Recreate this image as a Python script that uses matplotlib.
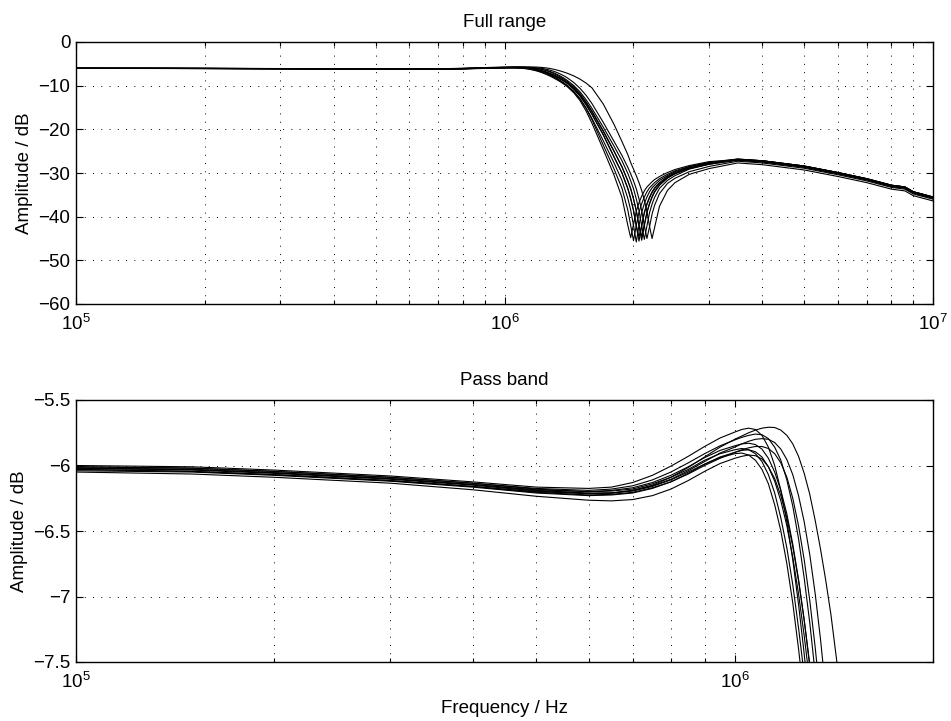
"""Monte-Carlo amplitude responses of the low-pass filter: full range and pass band."""

import matplotlib

matplotlib.use("Agg")
import matplotlib.pyplot as plt
from matplotlib.ticker import FuncFormatter, LogLocator, NullFormatter

plt.rcParams["font.family"] = ["Liberation Sans", "DejaVu Sans"]
FONT_SIZE = 13.5

# shared frequency grid (Hz)
FREQ_HZ = [
    1.0e5, 1.5e5, 2.0e5, 3.0e5, 4.0e5, 5.0e5,
    6.0e5, 6.5e5, 7.0e5, 7.5e5, 8.0e5, 8.5e5, 9.0e5, 9.5e5,
    1.000e6, 1.025e6, 1.050e6, 1.075e6, 1.100e6, 1.125e6, 1.150e6, 1.175e6, 1.200e6,
    1.225e6, 1.250e6, 1.275e6, 1.300e6, 1.325e6, 1.350e6, 1.375e6, 1.400e6,
    1.45e6, 1.50e6, 1.55e6,
    1.60e6, 1.70e6, 1.80e6, 1.88e6, 1.94e6, 1.97e6, 2.00e6, 2.03e6, 2.06e6, 2.09e6, 2.12e6,
    2.15e6, 2.18e6, 2.21e6, 2.24e6,
    2.30e6, 2.40e6, 2.50e6, 2.70e6, 3.00e6, 3.50e6, 4.00e6, 5.00e6, 6.00e6, 7.00e6, 8.00e6,
    8.60e6, 9.00e6, 1.00e7,
]

# amplitude (dB) of each simulated run on FREQ_HZ
RUN_01 = [
    -6.02, -6.03, -6.055, -6.10, -6.145, -6.19,
    -6.21, -6.21, -6.195, -6.16, -6.11, -6.05, -5.99, -5.94,
    -5.91, -5.905, -5.92, -5.96, -6.03, -6.14, -6.30, -6.50, -6.75,
    -7.05, -7.40, -7.78, -8.20, -8.65, -9.12, -9.65, -10.2,
    -11.6, -13.4, -15.8,
    -18.6, -24.6, -30.4, -35.6, -42.0, -44.8, -41.8, -38.8, -36.8, -35.3, -34.1,
    -33.2, -32.6, -32.0, -31.5,
    -30.8, -29.9, -29.2, -28.3, -27.4, -26.9, -27.2, -28.4, -29.9, -31.3, -32.8,
    -33.2, -34.3, -35.5,
]
RUN_02 = [
    -6.01, -6.02, -6.045, -6.09, -6.135, -6.18,
    -6.20, -6.195, -6.18, -6.14, -6.09, -6.03, -5.96, -5.91,
    -5.88, -5.87, -5.88, -5.91, -5.97, -6.07, -6.21, -6.40, -6.63,
    -6.91, -7.24, -7.60, -8.00, -8.44, -8.92, -9.44, -10.0,
    -11.3, -13.0, -15.2,
    -17.8, -23.6, -29.0, -33.5, -38.5, -42.0, -45.5, -42.0, -39.0, -37.0, -35.5,
    -34.3, -33.4, -32.8, -32.2,
    -31.3, -30.3, -29.5, -28.5, -27.6, -27.0, -27.4, -28.6, -30.1, -31.5, -33.0,
    -33.4, -34.5, -35.7,
]
RUN_03 = [
    -6.00, -6.01, -6.035, -6.08, -6.125, -6.165,
    -6.175, -6.165, -6.13, -6.075, -6.005, -5.93, -5.855, -5.79,
    -5.745, -5.725, -5.715, -5.725, -5.77, -5.86, -6.00, -6.19, -6.43,
    -6.72, -7.06, -7.44, -7.86, -8.32, -8.82, -9.36, -9.95,
    -11.3, -13.0, -15.1,
    -17.5, -22.6, -27.6, -31.7, -35.8, -38.5, -42.0, -45.8, -42.0, -39.0, -37.0,
    -35.5, -34.3, -33.4, -32.8,
    -31.7, -30.6, -29.7, -28.6, -27.6, -26.8, -27.2, -28.4, -29.9, -31.3, -32.8,
    -33.2, -34.3, -35.5,
]
RUN_04 = [
    -6.04, -6.05, -6.075, -6.12, -6.165, -6.21,
    -6.23, -6.225, -6.21, -6.175, -6.125, -6.06, -5.99, -5.935,
    -5.90, -5.885, -5.88, -5.895, -5.935, -6.01, -6.12, -6.27, -6.46,
    -6.70, -6.98, -7.30, -7.66, -8.06, -8.50, -8.98, -9.5,
    -10.8, -12.4, -14.4,
    -16.6, -21.3, -26.3, -30.0, -33.5, -35.8, -38.5, -42.0, -44.6, -42.0, -39.0,
    -37.0, -35.5, -34.3, -33.4,
    -32.2, -30.8, -29.9, -28.8, -27.8, -26.9, -27.2, -28.4, -29.9, -31.3, -32.8,
    -33.2, -34.3, -35.5,
]
RUN_05 = [
    -6.02, -6.03, -6.055, -6.10, -6.145, -6.185,
    -6.20, -6.19, -6.17, -6.13, -6.075, -6.01, -5.94, -5.885,
    -5.85, -5.835, -5.83, -5.84, -5.875, -5.945, -6.05, -6.19, -6.37,
    -6.60, -6.87, -7.18, -7.53, -7.92, -8.35, -8.82, -9.34,
    -10.6, -12.2, -14.2,
    -16.5, -21.2, -26.2, -30.0, -33.6, -35.9, -38.6, -42.2, -45.6, -42.2, -39.2,
    -37.2, -35.7, -34.5, -33.6,
    -32.4, -31.0, -30.1, -29.0, -28.0, -27.1, -27.5, -28.7, -30.2, -31.6, -33.1,
    -33.5, -34.6, -35.8,
]
RUN_06 = [
    -6.05, -6.065, -6.09, -6.135, -6.185, -6.235,
    -6.265, -6.27, -6.26, -6.23, -6.18, -6.115, -6.045, -5.985,
    -5.945, -5.93, -5.92, -5.925, -5.95, -6.01, -6.10, -6.23, -6.40,
    -6.62, -6.88, -7.18, -7.52, -7.90, -8.32, -8.78, -9.28,
    -10.5, -12.0, -13.9,
    -16.0, -20.5, -25.0, -28.6, -31.8, -33.6, -35.9, -38.6, -42.0, -44.5, -41.8,
    -38.9, -36.9, -35.4, -34.2,
    -32.7, -31.1, -30.1, -28.8, -27.8, -26.8, -27.2, -28.4, -29.9, -31.3, -32.8,
    -33.2, -34.3, -35.5,
]
RUN_07 = [
    -6.01, -6.02, -6.045, -6.09, -6.135, -6.175,
    -6.19, -6.18, -6.155, -6.11, -6.05, -5.98, -5.91, -5.85,
    -5.805, -5.785, -5.77, -5.76, -5.765, -5.795, -5.86, -5.96, -6.11,
    -6.31, -6.56, -6.86, -7.20, -7.59, -8.02, -8.50, -9.02,
    -10.25, -11.8, -13.7,
    -15.8, -20.3, -24.9, -28.6, -31.8, -33.6, -35.9, -38.6, -42.1, -45.4, -42.1,
    -39.1, -37.1, -35.6, -34.4,
    -32.8, -31.2, -30.2, -28.9, -27.9, -26.9, -27.3, -28.5, -30.0, -31.4, -32.9,
    -33.3, -34.4, -35.6,
]
RUN_08 = [
    -6.03, -6.045, -6.07, -6.115, -6.16, -6.205,
    -6.225, -6.22, -6.205, -6.17, -6.125, -6.065, -6.00, -5.945,
    -5.90, -5.88, -5.865, -5.855, -5.855, -5.87, -5.91, -5.98, -6.09,
    -6.25, -6.46, -6.72, -7.03, -7.39, -7.80, -8.26, -8.77,
    -9.95, -11.4, -13.2,
    -15.2, -19.5, -23.8, -27.2, -30.1, -31.8, -33.6, -35.9, -38.6, -42.1, -45.2,
    -42.1, -39.1, -37.1, -35.6,
    -33.5, -31.7, -30.6, -29.1, -28.0, -27.0, -27.4, -28.6, -30.1, -31.5, -33.0,
    -33.4, -34.5, -35.7,
]
RUN_09 = [
    -6.02, -6.035, -6.06, -6.105, -6.15, -6.195,
    -6.215, -6.21, -6.19, -6.155, -6.105, -6.04, -5.97, -5.905,
    -5.86, -5.835, -5.815, -5.80, -5.795, -5.80, -5.825, -5.875, -5.955,
    -6.07, -6.23, -6.43, -6.68, -6.98, -7.33, -7.73, -8.18,
    -9.25, -10.6, -12.2,
    -14.1, -18.4, -22.7, -26.0, -28.7, -30.2, -31.8, -33.6, -35.9, -38.6, -42.1,
    -45.0, -42.3, -39.4, -37.4,
    -34.7, -32.4, -31.2, -29.7, -28.5, -27.3, -27.7, -28.9, -30.4, -31.8, -33.3,
    -33.7, -34.8, -36.0,
]
RUN_10 = [
    -6.03, -6.045, -6.07, -6.115, -6.16, -6.20,
    -6.215, -6.21, -6.19, -6.15, -6.09, -6.015, -5.935, -5.86,
    -5.80, -5.775, -5.75, -5.73, -5.715, -5.708, -5.71, -5.73, -5.77,
    -5.835, -5.93, -6.06, -6.22, -6.42, -6.64, -6.88, -7.14,
    -7.75, -8.5, -9.4,
    -10.5, -14.2, -18.8, -22.8, -25.8, -27.6, -29.1, -30.6, -32.2, -34.0, -36.2,
    -38.8, -42.2, -45.0, -42.5,
    -37.6, -34.0, -32.2, -30.3, -29.0, -27.7, -28.1, -29.3, -30.8, -32.2, -33.7,
    -34.1, -35.2, -36.4,
]
RUNS = [RUN_01, RUN_02, RUN_03, RUN_04, RUN_05, RUN_06, RUN_07, RUN_08, RUN_09, RUN_10]

TOP_TITLE = "Full range"
BOTTOM_TITLE = "Pass band"
Y_LABEL = "Amplitude / dB"
X_LABEL = "Frequency / Hz"
TOP_YTICKS = [-60, -50, -40, -30, -20, -10, 0]
BOTTOM_YTICKS = [-7.5, -7, -6.5, -6, -5.5]


def _fmt(value, _pos):
    return f"{value:g}".replace("-", "\u2212")


def _style(ax, xlim, ylim, yticks):
    ax.set_xscale("log")
    ax.set_xlim(*xlim)
    ax.set_ylim(*ylim)
    ax.set_yticks(yticks)
    ax.yaxis.set_major_formatter(FuncFormatter(_fmt))
    ax.xaxis.set_major_locator(LogLocator(base=10, numticks=10))
    ax.xaxis.set_minor_locator(LogLocator(base=10, subs=range(2, 10), numticks=20))
    ax.xaxis.set_minor_formatter(NullFormatter())
    ax.tick_params(which="both", direction="in", top=True, right=True, labelsize=FONT_SIZE, width=0.8)
    ax.tick_params(which="major", length=5)
    ax.tick_params(which="minor", length=3)
    ax.tick_params(axis="x", which="major", pad=7)
    ax.tick_params(axis="y", which="major", pad=4)
    grid = {"color": "k", "linewidth": 0.7, "linestyle": (0, (1, 7.5))}
    ax.grid(True, which="both", axis="x", **grid)
    ax.grid(True, which="major", axis="y", **grid)
    for spine in ax.spines.values():
        spine.set_linewidth(1.0)
    ax.set_ylabel(Y_LABEL, fontsize=FONT_SIZE, labelpad=4)


def main():
    fig = plt.figure(figsize=(9.51, 7.21), dpi=100)
    ax_top = fig.add_axes([76 / 951, 1 - 304 / 721, 857 / 951, 262 / 721])
    ax_bot = fig.add_axes([76 / 951, 1 - 662 / 721, 857 / 951, 262 / 721])

    for ax in (ax_top, ax_bot):
        for run in RUNS:
            ax.plot(FREQ_HZ, run, color="k", linewidth=0.8)

    _style(ax_top, (1e5, 1e7), (-60, 0), TOP_YTICKS)
    _style(ax_bot, (1e5, 2e6), (-7.5, -5.5), BOTTOM_YTICKS)
    ax_top.set_title(TOP_TITLE, fontsize=FONT_SIZE, pad=11)
    ax_bot.set_title(BOTTOM_TITLE, fontsize=FONT_SIZE, pad=11)
    ax_bot.set_xlabel(X_LABEL, fontsize=FONT_SIZE, labelpad=6)

    fig.savefig("out.png", dpi=100)
    plt.close(fig)


if __name__ == "__main__":
    main()
